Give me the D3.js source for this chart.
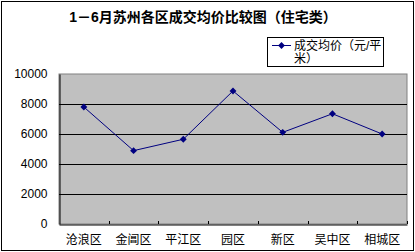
<!DOCTYPE html>
<html lang="zh">
<head>
<meta charset="UTF-8">
<script src="https://cdn.jsdelivr.net/npm/d3@7"></script>
<style>
  body { margin: 0; background: #fff; }
  text { font-family: Arial, "Liberation Sans", "Noto Sans CJK SC", sans-serif; }
</style>
</head>
<body>
<div id="chart"></div>
<script>
const districts = ['沧浪区', '金阊区', '平江区', '园区', '新区', '吴中区', '相城区']
const avgPrice = [7800, 4890, 5650, 8870, 6110, 7350, 6000]
const yTicks = [0, 2000, 4000, 6000, 8000, 10000]
const title = '1－6月苏州各区成交均价比较图（住宅类）'
const legendLines = ['成交均价（元/平', '米）']

const width = 415
const height = 252
const margin = { top: 74, right: 8, bottom: 28, left: 59 }

const svg = d3.select('#chart').append('svg')
  .attr('width', width)
  .attr('height', height)

// outer frame
svg.append('rect')
  .attr('x', 1.5).attr('y', 1.5)
  .attr('width', width - 3).attr('height', height - 3)
  .attr('fill', '#fff').attr('stroke', '#000')

const x = d3.scaleBand()
  .domain(districts)
  .range([margin.left, width - margin.right])

const y = d3.scaleLinear()
  .domain([0, 10000])
  .range([height - margin.bottom, margin.top])

// plot area
svg.append('rect')
  .attr('x', margin.left).attr('y', margin.top)
  .attr('width', width - margin.left - margin.right)
  .attr('height', height - margin.top - margin.bottom)
  .attr('fill', '#c0c0c0')
  .attr('stroke', '#808080')

// gridlines
svg.append('g')
  .selectAll('line')
  .data(yTicks.filter(d => d > 0 && d < 10000))
  .join('line')
  .attr('x1', margin.left).attr('x2', width - margin.right)
  .attr('y1', d => Math.round(y(d)) + 0.5).attr('y2', d => Math.round(y(d)) + 0.5)
  .attr('stroke', '#000')

// y axis
const yAxis = svg.append('g')
  .attr('transform', `translate(${margin.left + 0.5},0)`)
  .call(d3.axisLeft(y).tickValues(yTicks).tickSize(0).tickPadding(12).tickFormat(d3.format('d')))
yAxis.select('.domain').attr('stroke', '#000')
yAxis.selectAll('text').attr('font-size', 12).attr('fill', '#000')
  .attr('font-family', 'Arial, "Liberation Sans", sans-serif')

// x axis
const xAxis = svg.append('g')
  .attr('transform', `translate(0,${height - margin.bottom + 0.5})`)
  .call(d3.axisBottom(x).tickSize(0).tickPadding(11))
xAxis.select('.domain').attr('stroke', '#000')
xAxis.selectAll('text').attr('font-size', 12).attr('fill', '#000')
  .attr('font-family', '"Noto Sans CJK SC", sans-serif')

// inside tick marks between categories
svg.append('g')
  .selectAll('line')
  .data(districts.slice(1).concat(['end']))
  .join('line')
  .attr('x1', (d, i) => Math.round(x(districts[i]) + x.bandwidth()) + 0.5)
  .attr('x2', (d, i) => Math.round(x(districts[i]) + x.bandwidth()) + 0.5)
  .attr('y1', height - margin.bottom - 3)
  .attr('y2', height - margin.bottom)
  .attr('stroke', '#000')

// line + markers
const cx = d => x(d) + x.bandwidth() / 2
svg.append('path')
  .datum(districts)
  .attr('fill', 'none')
  .attr('stroke', '#000080')
  .attr('stroke-width', 1)
  .attr('d', d3.line().x(d => cx(d)).y((d, i) => y(avgPrice[i])))

svg.append('g')
  .selectAll('path')
  .data(districts)
  .join('path')
  .attr('transform', (d, i) => `translate(${cx(d)},${y(avgPrice[i])})`)
  .attr('d', d3.symbol(d3.symbolDiamond2, 30))
  .attr('fill', '#000080')

// title
svg.append('text')
  .attr('x', 203).attr('y', 22)
  .attr('text-anchor', 'middle')
  .attr('font-size', 14)
  .attr('font-weight', 'bold')
  .attr('font-family', '"Noto Sans CJK SC", sans-serif')
  .text(title)

// legend
const lg = svg.append('g')
lg.append('rect')
  .attr('x', 267.5).attr('y', 37.5)
  .attr('width', 116).attr('height', 29)
  .attr('fill', '#fff').attr('stroke', '#000')
lg.append('line')
  .attr('x1', 272).attr('x2', 291).attr('y1', 45.5).attr('y2', 45.5)
  .attr('stroke', '#000080')
lg.append('path')
  .attr('transform', 'translate(281.5,45.5)')
  .attr('d', d3.symbol(d3.symbolDiamond2, 30))
  .attr('fill', '#000080')
lg.selectAll('text')
  .data(legendLines)
  .join('text')
  .attr('x', 294)
  .attr('y', (d, i) => 50 + i * 13)
  .attr('font-size', 12)
  .attr('font-family', '"Noto Sans CJK SC", sans-serif')
  .text(d => d)
</script>
</body>
</html>
